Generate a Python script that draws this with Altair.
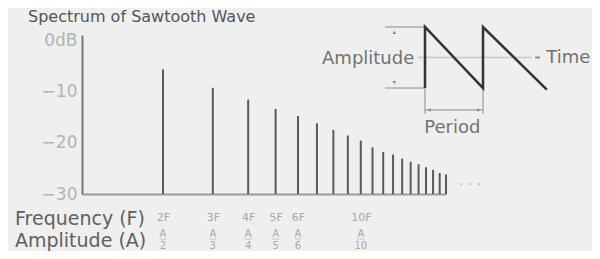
import altair as alt
import pandas as pd

# ---------------- data ----------------
harmonics = [2, 3, 4, 5, 6, 7, 8, 9, 10, 11, 12, 13, 14, 15, 16, 17, 18, 19, 20]
levels_db = [-5.7, -9.3, -11.6, -13.4, -14.8, -16.2, -17.5, -18.6, -19.6, -20.9,
             -21.8, -22.3, -23.1, -23.7, -24.2, -24.8, -25.3, -25.9, -26.2]

label_harmonics = [2, 3, 4, 5, 6, 10]
freq_labels = ["2F", "3F", "4F", "5F", "6F", "10F"]
amp_numer = ["A", "A", "A", "A", "A", "A"]
amp_denom = ["2", "3", "4", "5", "6", "10"]

y_ticks = [0, -10, -20, -30]
y_tick_labels = ["0dB", "\u221210\u00a0", "\u221220\u00a0", "\u221230\u00a0"]

title_text = "Spectrum of Sawtooth Wave"
row_titles = ["Frequency (F)", "Amplitude (A)"]

# inset diagram (time in periods, amplitude in units of the peak)
saw_t = [0, 0, 1, 1, 2.1]
saw_a = [-1, 1, -1, 1, -1.05]
time_axis_t = [-0.12, 1.84]
time_dash_t = [1.9, 1.98]
dim_t1 = [-0.69, -0.69, 0, 1, 0]
dim_t2 = [0, 0, 0, 1, 1]
dim_a1 = [1, -1, -1, -1, -1.72]
dim_a2 = [1, -1, -1.85, -1.85, -1.72]
arrow_t = [-0.53, -0.53, 0.07, 0.93]
arrow_a = [0.82, -0.82, -1.72, -1.72]
arrow_shape = ["triangle-up", "triangle-down", "triangle-left", "triangle-right"]
diag_labels = ["Amplitude", "Time", "Period"]
diag_label_t = [-0.98, 2.47, 0.47]
diag_label_a = [-0.05, -0.02, -2.31]

FONT = "DejaVu Sans"
W, H = 364, 159

# ---------------- tables ----------------
spec_df = pd.DataFrame({"h": harmonics, "db": levels_db})
lab_df = pd.DataFrame({"h": label_harmonics, "f": freq_labels,
                       "num": amp_numer, "den": amp_denom})
saw_df = pd.DataFrame({"t": saw_t, "a": saw_a, "i": list(range(len(saw_t)))})
time_df = pd.DataFrame({"t1": [time_axis_t[0]], "t2": [time_axis_t[1]], "a": [0]})
dash_df = pd.DataFrame({"t1": [time_dash_t[0]], "t2": [time_dash_t[1]], "a": [0]})
dim_df = pd.DataFrame({"t1": dim_t1, "t2": dim_t2, "a1": dim_a1, "a2": dim_a2})
arrow_df = pd.DataFrame({"t": arrow_t, "a": arrow_a, "s": arrow_shape})
diag_lab_df = pd.DataFrame({"t": diag_label_t, "a": diag_label_a, "txt": diag_labels})

# ---------------- scales ----------------
def xs():
    return alt.Scale(type="log", domain=[1.035, 20], nice=False)

def ys():
    return alt.Scale(domain=[-30, 1], nice=False, zero=False)

def dxs():
    return alt.Scale(domain=[0, 1], range=[343, 401], nice=False, zero=False)

def dys():
    return alt.Scale(domain=[-1, 1], range=[53, -8], nice=False, zero=False)

label_expr = ""
for v, s in zip(y_ticks, y_tick_labels):
    label_expr += f"datum.value == {v} ? '{s}' : "
label_expr += "''"

# ---------------- spectrum ----------------
bars = alt.Chart(spec_df).mark_rule(color="#5a5a5a", strokeWidth=2).encode(
    x=alt.X("h:Q", scale=xs(), axis=alt.Axis(
        values=label_harmonics, labelExpr="datum.value + 'F'", title=None,
        ticks=False, grid=False, domainColor="#999999", domainWidth=2,
        labelFont=FONT, labelFontSize=11, labelColor="#a8a8a8",
        labelPadding=17, labelOverlap=False, labelFlush=False)),
    y=alt.Y("db:Q", scale=ys(), axis=alt.Axis(
        values=y_ticks, labelExpr=label_expr, title=None,
        ticks=False, grid=False, domainColor="#777777", domainWidth=2,
        labelFont=FONT, labelFontSize=17, labelColor="#b3b3b3",
        labelPadding=5)),
    y2=alt.datum(-30),
)

numer = alt.Chart(lab_df).mark_text(font=FONT, fontSize=10, color="#a8a8a8").encode(
    x=alt.X("h:Q", scale=xs(), axis=None), y=alt.value(198.5), text="num:N")
fbar = alt.Chart(lab_df).mark_tick(orient="horizontal", size=7, thickness=1,
                                   color="#b5b5b5").encode(
    x=alt.X("h:Q", scale=xs(), axis=None), y=alt.value(204))
denom = alt.Chart(lab_df).mark_text(font=FONT, fontSize=10, color="#a8a8a8").encode(
    x=alt.X("h:Q", scale=xs(), axis=None), y=alt.value(210.5), text="den:N")

rows = alt.Chart(pd.DataFrame({"r": row_titles, "yy": [190, 212]})).mark_text(
    font=FONT, fontSize=19, color="#606060", align="left", baseline="alphabetic"
).encode(x=alt.value(-67), y=alt.Y("yy:Q", scale=None), text="r:N")

ellipsis = alt.Chart(pd.DataFrame({"e": ["\u00b7 \u00b7 \u00b7"]})).mark_text(
    font=FONT, fontSize=14, color="#b0b0b0").encode(
    x=alt.value(388), y=alt.value(150), text="e:N")

title = alt.Chart(pd.DataFrame({"t": [title_text]})).mark_text(
    font=FONT, fontSize=16, color="#555555", align="left", baseline="alphabetic"
).encode(x=alt.value(-54), y=alt.value(-13), text="t:N")

# ---------------- inset diagram ----------------
time_line = alt.Chart(time_df).mark_rule(color="#c8c8c8", strokeWidth=1.5).encode(
    x=alt.X("t1:Q", scale=dxs(), axis=None), x2="t2:Q",
    y=alt.Y("a:Q", scale=dys(), axis=None))
time_dash = alt.Chart(dash_df).mark_rule(color="#888888", strokeWidth=2).encode(
    x=alt.X("t1:Q", scale=dxs(), axis=None), x2="t2:Q",
    y=alt.Y("a:Q", scale=dys(), axis=None))
dims = alt.Chart(dim_df).mark_rule(color="#8a8a8a", strokeWidth=1).encode(
    x=alt.X("t1:Q", scale=dxs(), axis=None), x2="t2:Q",
    y=alt.Y("a1:Q", scale=dys(), axis=None), y2="a2:Q")
arrows = alt.Chart(arrow_df).mark_point(filled=True, size=14, color="#888888",
                                        opacity=1).encode(
    x=alt.X("t:Q", scale=dxs(), axis=None),
    y=alt.Y("a:Q", scale=dys(), axis=None),
    shape=alt.Shape("s:N", scale=None))
saw = alt.Chart(saw_df).mark_line(color="#333333", strokeWidth=2.5,
                                  strokeJoin="miter").encode(
    x=alt.X("t:Q", scale=dxs(), axis=None),
    y=alt.Y("a:Q", scale=dys(), axis=None),
    order="i:Q")
diag_text = alt.Chart(diag_lab_df).mark_text(font=FONT, fontSize=18,
                                             color="#727272").encode(
    x=alt.X("t:Q", scale=dxs(), axis=None),
    y=alt.Y("a:Q", scale=dys(), axis=None),
    text="txt:N")

chart = alt.layer(
    bars, numer, fbar, denom, rows, ellipsis, title,
    time_line, time_dash, dims, arrows, saw, diag_text
).resolve_scale(x="independent", y="independent").properties(
    width=W, height=H,
    autosize=alt.AutoSizeParams(type="none"),
    padding={"left": 74, "top": 27, "right": 146, "bottom": 57},
    background="#efefef",
).configure_view(stroke=None)

chart.save("out.html", embed_options={"renderer": "svg", "actions": False})
